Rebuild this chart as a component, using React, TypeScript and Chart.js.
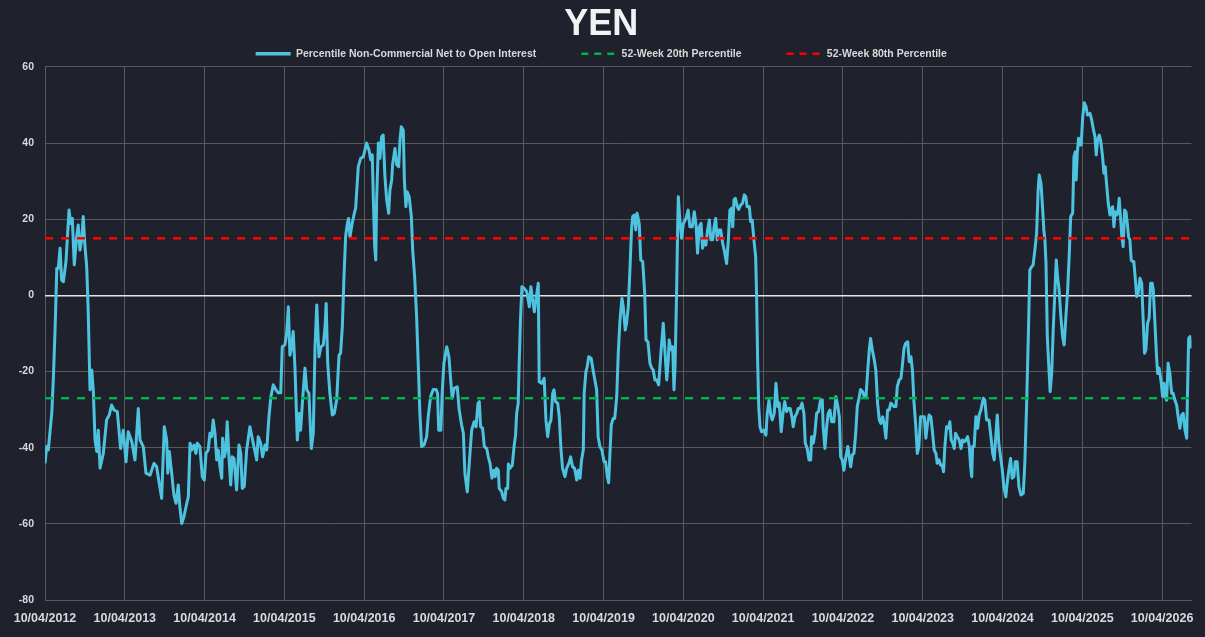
import { useEffect, useRef } from 'react'
import { Chart, registerables } from 'chart.js'

Chart.register(...registerables)

Chart.defaults.font.family = "'Liberation Sans', Arial, sans-serif"

// ---- data ----
const chartTitle = 'YEN'
const seriesNames = [
  'Percentile Non-Commercial Net to Open Interest',
  '52-Week 20th Percentile',
  '52-Week 80th Percentile',
]
const tickLabels = [
  '10/04/2012', '10/04/2013', '10/04/2014', '10/04/2015', '10/04/2016',
  '10/04/2017', '10/04/2018', '10/04/2019', '10/04/2020', '10/04/2021',
  '10/04/2022', '10/04/2023', '10/04/2024', '10/04/2025', '10/04/2026',
]
// days since 10/04/2012
const dayOffsets = [
  0, 8, 15, 31, 38, 46, 54, 61, 69, 76, 84, 96, 102, 110, 118, 125, 134, 145, 152, 160,
  168, 175, 183, 191, 198, 206, 214, 221, 229, 237, 244, 252, 267, 282, 294, 305, 316, 331, 346, 358,
  371, 381, 397, 412, 427, 435, 450, 462, 481, 499, 511, 523, 534, 546, 557, 562, 569, 580, 590, 600,
  610, 618, 626, 636, 649, 656, 664, 671, 682, 691, 697, 709, 720, 729, 737, 747, 755, 763, 770, 778,
  786, 793, 801, 809, 813, 821, 828, 834, 842, 850, 857, 865, 877, 888, 896, 903, 912, 923, 938, 953,
  969, 976, 987, 996, 1007, 1015, 1025, 1034, 1045, 1057, 1068, 1079, 1086, 1098, 1106, 1114, 1121, 1129, 1136, 1144,
  1155, 1164, 1170, 1179, 1190, 1198, 1208, 1219, 1228, 1236, 1244, 1254, 1263, 1274, 1282, 1287, 1294, 1304, 1315, 1324,
  1335, 1346, 1353, 1361, 1368, 1376, 1384, 1390, 1396, 1406, 1416, 1422, 1434, 1445, 1457, 1472, 1483, 1491, 1498, 1503,
  1509, 1514, 1518, 1526, 1533, 1541, 1548, 1556, 1564, 1573, 1579, 1587, 1591, 1602, 1610, 1619, 1625, 1631, 1640, 1645,
  1652, 1658, 1667, 1677, 1683, 1692, 1701, 1710, 1716, 1724, 1735, 1747, 1754, 1765, 1777, 1790, 1797, 1802, 1812, 1818,
  1826, 1839, 1849, 1857, 1864, 1873, 1887, 1896, 1907, 1915, 1922, 1933, 1942, 1953, 1964, 1973, 1982, 1988, 1994, 2003,
  2011, 2022, 2029, 2037, 2046, 2055, 2061, 2067, 2075, 2079, 2090, 2098, 2105, 2110, 2118, 2121, 2128, 2139, 2147, 2154,
  2159, 2166, 2171, 2177, 2183, 2192, 2205, 2217, 2224, 2230, 2240, 2247, 2258, 2262, 2273, 2285, 2293, 2301, 2308, 2316,
  2324, 2330, 2337, 2347, 2354, 2362, 2369, 2380, 2388, 2398, 2406, 2415, 2424, 2434, 2441, 2449, 2456, 2464, 2468, 2476,
  2482, 2489, 2500, 2510, 2525, 2532, 2540, 2549, 2559, 2566, 2574, 2580, 2586, 2592, 2601, 2608, 2617, 2624, 2632, 2641,
  2647, 2656, 2662, 2670, 2678, 2685, 2690, 2697, 2704, 2710, 2720, 2727, 2736, 2745, 2751, 2760, 2769, 2777, 2784, 2792,
  2800, 2809, 2818, 2830, 2838, 2846, 2853, 2857, 2865, 2873, 2879, 2884, 2891, 2896, 2899, 2906, 2914, 2922, 2934, 2944,
  2952, 2963, 2972, 2980, 2987, 2995, 3003, 3010, 3018, 3025, 3033, 3041, 3048, 3056, 3063, 3070, 3077, 3085, 3093, 3102,
  3109, 3120, 3127, 3135, 3143, 3148, 3154, 3160, 3169, 3175, 3184, 3193, 3201, 3208, 3214, 3224, 3230, 3237, 3245, 3253,
  3257, 3262, 3267, 3273, 3280, 3291, 3300, 3306, 3314, 3322, 3329, 3338, 3346, 3354, 3361, 3370, 3378, 3386, 3395, 3402,
  3411, 3419, 3425, 3433, 3441, 3448, 3456, 3465, 3474, 3480, 3489, 3497, 3505, 3509, 3517, 3524, 3532, 3541, 3550, 3558,
  3562, 3570, 3578, 3585, 3593, 3601, 3611, 3620, 3628, 3636, 3642, 3649, 3657, 3666, 3675, 3681, 3688, 3695, 3703, 3711,
  3718, 3726, 3733, 3743, 3750, 3758, 3765, 3773, 3779, 3787, 3796, 3803, 3811, 3819, 3826, 3834, 3842, 3849, 3857, 3864,
  3872, 3880, 3887, 3895, 3901, 3910, 3918, 3924, 3932, 3939, 3949, 3956, 3964, 3971, 3977, 3985, 3993, 4000, 4008, 4017,
  4025, 4032, 4040, 4047, 4055, 4063, 4070, 4078, 4084, 4092, 4100, 4107, 4113, 4119, 4127, 4136, 4142, 4148, 4155, 4162,
  4168, 4176, 4185, 4193, 4200, 4208, 4215, 4223, 4231, 4237, 4242, 4246, 4253, 4261, 4269, 4276, 4284, 4295, 4302, 4310,
  4321, 4330, 4338, 4345, 4353, 4359, 4366, 4374, 4382, 4389, 4398, 4404, 4412, 4420, 4427, 4435, 4441, 4450, 4458, 4467,
  4478, 4485, 4493, 4501, 4508, 4516, 4523, 4531, 4539, 4546, 4551, 4559, 4566, 4572, 4577, 4582, 4588, 4594, 4601, 4608,
  4615, 4623, 4629, 4635, 4642, 4650, 4658, 4665, 4673, 4681, 4688, 4695, 4704, 4710, 4716, 4720, 4725, 4731, 4737, 4743,
  4750, 4757, 4765, 4772, 4783, 4791, 4798, 4806, 4812, 4818, 4826, 4833, 4841, 4847, 4853, 4859, 4867, 4875, 4880, 4887,
  4893, 4899, 4905, 4911, 4917, 4924, 4929, 4935, 4942, 4948, 4954, 4960, 4966, 4972, 4978, 4984, 4990, 4997, 5004, 5012,
  5020, 5027, 5033, 5039, 5047, 5054, 5061, 5068, 5073, 5080, 5088, 5093, 5100, 5108, 5116, 5122, 5128, 5134, 5141, 5149,
  5157, 5164, 5172, 5180, 5187, 5195, 5203, 5210, 5218, 5226, 5230, 5235, 5241, 5247,
]
const netPercentile = [
  -44.1, -39.7, -40.6, -30.9, -22.2, -9.1, 7.1, 7.1, 12.4, 4.0, 3.6, 8.9, 14.6, 22.4, 18.9, 20.2, 8.0, 15.4, 18.5, 11.9,
  14.6, 20.7, 12.8, 7.5, -4.7, -24.8, -19.6, -24.8, -38, -41, -35.4, -45.4, -41.5, -32.7, -31.4, -28.8, -30.1, -30.5, -40.2, -35.4,
  -43.7, -35.8, -38.4, -43.2, -29.7, -38, -39.7, -46.7, -47.2, -44.1, -45, -49.4, -53.3, -34.5, -38, -46.7, -41, -46.7, -52.4, -54.6,
  -49.8, -55.9, -59.9, -58.1, -54.6, -52.9, -38.8, -40.6, -39.3, -41.5, -38.8, -39.7, -47.6, -48.5, -41.5, -40.6, -36.2, -37.1, -32.7, -36.2,
  -43.2, -40.6, -45, -48, -37.5, -42.4, -40.6, -33.2, -42.4, -49.8, -42.4, -42.8, -51.1, -39.3, -41.5, -50.7, -50.2, -40.6, -34.5, -38.8,
  -43.2, -37.1, -38.8, -42.4, -39.3, -40.6, -31.9, -26.6, -23.5, -24.8, -25.6, -25.6, -13.5, -13, -10, -3, -15.7, -13.5, -9.5, -18.7,
  -38, -31, -35.4, -27.5, -19.1, -24.8, -25.7, -40.2, -36.2, -13.5, -2.5, -16.1, -13.5, -13, -8.2, -2.1, -17.8, -25.7, -31.4, -31,
  -27.5, -15.7, -15.2, -8.2, 4, 15.4, 18.9, 20.2, 15.4, 18.9, 21.6, 22.9, 33.8, 36, 36.4, 40, 38.2, 35.6, 36.9, 25.1,
  12.8, 9.3, 25.1, 40, 36, 41.7, 42.1, 31.2, 25.1, 21.6, 27.7, 30.3, 34.3, 38.6, 34.3, 33.8, 40.8, 44.3, 43.4, 30.3,
  23.3, 27.2, 25.9, 20.7, 11.9, 4.9, -5.6, -20.5, -31, -39.7, -39.3, -37.1, -31.9, -26.6, -24.7, -24.7, -25.7, -35.4, -35.4, -25.7,
  -17.8, -13.5, -16.1, -22.2, -27, -24.4, -24, -30.1, -34, -36.2, -46.7, -51.6, -44.1, -35.4, -33.2, -34.5, -28.3, -27.9, -34.5, -34.9,
  -39.7, -40.2, -42.4, -44.1, -48, -45.9, -47.6, -45.4, -45.9, -50.7, -51.5, -53.3, -53.7, -50.7, -50.7, -44.3, -45.4, -44.6, -39.7, -36.7,
  -31, -28.3, -17, -5.6, 2.3, 1.9, 1, -3, 2.3, -0.3, -4.3, -1.2, 3.2, -22.7, -23.1, -21.8, -32.7, -37.1, -34, -32.7,
  -25.7, -24.8, -27.9, -28.3, -31.9, -40.6, -45.4, -47.6, -45.4, -44.1, -42.4, -45, -45.4, -48.5, -45.9, -48, -43.2, -40.6, -25.7, -20,
  -18.7, -16.1, -16.5, -20, -24.8, -37.1, -39.7, -40.6, -43.7, -43.7, -47.6, -49.2, -41.5, -34, -32.3, -32.3, -26.6, -15.2, -6.5, -0.8,
  -3, -9.1, -7.3, -3, 7.5, 17.6, 20.7, 21.1, 17.2, 21.6, 18.9, 9.3, 8.9, 0.6, -11.7, -12.2, -17.8, -19.1, -19.6, -22.2,
  -22.2, -23.5, -16.1, -7.3, -15, -22.2, -17, -11.7, -14.3, -13.5, -24.8, -18.7, 0.6, 18, 25.9, 19.8, 15, 18.9, 20.2, 22.4,
  18, 18, 22, 18.5, 11.1, 18, 18.9, 12.4, 14.6, 13.2, 17.2, 19.8, 14.6, 14.6, 18, 20.2, 14.6, 17.2, 17.2, 13.7,
  11.9, 8.4, 13.7, 22.4, 22.9, 18, 25.1, 25.5, 23.3, 22.6, 23.7, 24.2, 26.4, 25.9, 23.3, 23.3, 19.4, 19.8, 14.6, 10.2,
  0.6, -17, -29.2, -34.5, -35.8, -35.4, -36.7, -31, -27.5, -31.4, -32.7, -31, -23.1, -29.2, -28.3, -35.8, -31, -27.9, -30.5, -29.7,
  -29.7, -31.9, -34.5, -31.9, -31, -29.7, -29.7, -28.3, -31, -38.8, -40.2, -43.2, -43.2, -37.1, -38.8, -36.2, -31, -30.5, -27.5, -27.5,
  -34.5, -40.2, -34.5, -31, -30.1, -33.2, -33.2, -26.6, -28.8, -31.9, -42.4, -43.2, -45.9, -42.4, -39.7, -42.4, -45, -41.9, -41.5, -36.2,
  -29.2, -27, -24.7, -25.3, -26.6, -26.6, -20.5, -14.3, -11.3, -14.3, -17, -19.6, -28.3, -32.7, -33.6, -31.9, -34, -37.5, -30.1, -30.1,
  -28.3, -28.8, -29.2, -29.2, -24, -22.2, -21.8, -18.7, -13.9, -12.6, -12.2, -17.4, -16.1, -20, -27.5, -33.6, -41.5, -39.7, -31.9, -31.9,
  -31.9, -37.5, -33.6, -31.4, -31.9, -36.2, -40.6, -41.5, -44.1, -43.2, -44.6, -44.6, -46.3, -39.7, -34.5, -34.9, -33.2, -38, -38.8, -40.2,
  -36.2, -37.1, -38, -40.2, -38, -38.4, -38, -37.1, -39.7, -45, -47.6, -39.7, -39.7, -31.9, -34.9, -31.4, -30.1, -27, -27.5, -32.7,
  -32.7, -37.1, -41.5, -43.2, -36.2, -31.4, -38.8, -42.4, -45.9, -50.2, -52.9, -49.4, -45.9, -42.8, -48, -47.6, -43.7, -43.7, -50.2, -52.4,
  -52, -44.1, -29.2, -10.8, 6.7, 7.5, 8, 11.9, 16.3, 27.7, 31.6, 29.4, 23.3, 17.2, 14.6, 8.4, -10.8, -17.8, -25.3, -20.5,
  -9.1, 1.4, 9.3, 4.9, 1.4, -5.6, -10.8, -13, -5.6, 1.4, 10.2, 20.7, 21.6, 36.4, 37.7, 30.3, 37.3, 41.3, 39.5, 39.5,
  46.9, 50.6, 49.6, 47.4, 47.8, 46.1, 43.9, 41.7, 36.9, 40.8, 42.1, 40.4, 36.4, 32.1, 33.8, 29.4, 24.2, 21.1, 22.4, 23.3,
  18, 22, 21.1, 21.6, 25.5, 19.8, 15.4, 12.8, 22.4, 22, 18.9, 15.4, 14.6, 9.3, 8.9, 8.9, 4.9, -0.3, 0.6, 4.5,
  3.2, -6.5, -15.2, -14.3, -7.3, -6, 3.2, 3.2, 1.4, -6.5, -16.1, -20.5, -19.1, -22.2, -26.6, -23.1, -26.6, -27.5, -17.8, -20.5,
  -25.7, -25.7, -27.5, -28.8, -31.9, -34.9, -31.4, -31, -35.4, -37.5, -24.8, -11.3, -10.8, -13.9,
]
const pct20Level = [-27, -27]
const pct80Level = [15, 15]

const DAYS_PER_YEAR = 365.25
const BG = '#1f222d'
const GRID = '#595959'
const TEXT = '#d9d9d9'

export default function App() {
  const canvasRef = useRef<HTMLCanvasElement>(null)
  const chartRef = useRef<Chart | null>(null)

  useEffect(() => {
    if (!canvasRef.current) return
    if (chartRef.current) chartRef.current.destroy()

    const first = dayOffsets[0]
    const last = dayOffsets[dayOffsets.length - 1]
    const flat = (lv: number[]) => [{ x: first, y: lv[0] }, { x: last, y: lv[1] }]
    const legendWidths = [3.5, 2.5, 2.5]

    chartRef.current = new Chart(canvasRef.current, {
      type: 'line',
      data: {
        datasets: [
          {
            label: seriesNames[0],
            data: dayOffsets.map((d, i) => ({ x: d, y: netPercentile[i] })),
            borderColor: '#4ec3e0',
            backgroundColor: '#4ec3e0',
            borderWidth: 3,
            borderJoinStyle: 'round',
            pointRadius: 0,
            tension: 0,
            order: 1,
          },
          {
            label: seriesNames[1],
            data: flat(pct20Level),
            borderColor: '#00b050',
            backgroundColor: '#00b050',
            borderWidth: 2.5,
            borderDash: [8, 8],
            pointRadius: 0,
            order: 0,
          },
          {
            label: seriesNames[2],
            data: flat(pct80Level),
            borderColor: '#ff0000',
            backgroundColor: '#ff0000',
            borderWidth: 2.5,
            borderDash: [8, 8],
            pointRadius: 0,
            order: 0,
          },
        ],
      },
      options: {
        animation: false,
        responsive: true,
        maintainAspectRatio: false,
        layout: { padding: { left: 11, right: 13.5, top: 0, bottom: 0 } },
        plugins: {
          title: {
            display: true,
            text: chartTitle,
            color: '#f2f2f2',
            font: { family: "'Liberation Sans Narrow', 'Liberation Sans', sans-serif", size: 36, weight: 'bold', lineHeight: 1.2 },
            padding: { top: 3.8, bottom: -43.55 },
          },
          legend: {
            display: true,
            maxHeight: 63.5,
            labels: {
              color: TEXT,
              font: { size: 10.5, weight: 'bold' },
              usePointStyle: true,
              pointStyle: 'line',
              pointStyleWidth: 35,
              padding: 45,
              sort: (a, b) => (a.datasetIndex ?? 0) - (b.datasetIndex ?? 0),
              generateLabels: (chart) => {
                const items = Chart.defaults.plugins.legend.labels.generateLabels(chart)
                return items.map((item) => {
                  const ds: any = chart.data.datasets[item.datasetIndex ?? 0]
                  return {
                    ...item,
                    lineDash: ds.borderDash ? [7, 6] : [],
                    lineWidth: legendWidths[item.datasetIndex ?? 0],
                    strokeStyle: ds.borderColor,
                    fillStyle: ds.borderColor,
                  }
                })
              },
            },
          },
          tooltip: { enabled: false },
        },
        scales: {
          x: {
            type: 'linear',
            min: 0,
            max: 5248,
            afterBuildTicks: (scale) => {
              scale.ticks = tickLabels.map((_, i) => ({ value: i * DAYS_PER_YEAR }))
            },
            afterFit: (scale) => { scale.height = 37 },
            ticks: {
              callback: (_v, i) => tickLabels[i],
              color: TEXT,
              font: { size: 12.5, weight: 'bold' },
              padding: 11,
              autoSkip: false,
              maxRotation: 0,
            },
            grid: { color: GRID, drawTicks: false },
            border: { color: GRID },
          },
          y: {
            min: -80,
            max: 60,
            afterFit: (scale) => { scale.width = 34 },
            ticks: {
              stepSize: 20,
              color: TEXT,
              font: { size: 10.5, weight: 'bold' },
              padding: 11,
            },
            grid: {
              color: (ctx) => (ctx.tick && ctx.tick.value === 0 ? '#e6e6e6' : GRID),
              lineWidth: (ctx) => (ctx.tick && ctx.tick.value === 0 ? 1.5 : 1),
              drawTicks: false,
            },
            border: { display: false },
          },
        },
      },
    })
    return () => { chartRef.current?.destroy(); chartRef.current = null }
  }, [])

  return (
    <div style={{ position: 'absolute', left: 0, top: 0, width: 1205, height: 637, background: BG }}>
      <canvas ref={canvasRef} />
    </div>
  )
}
